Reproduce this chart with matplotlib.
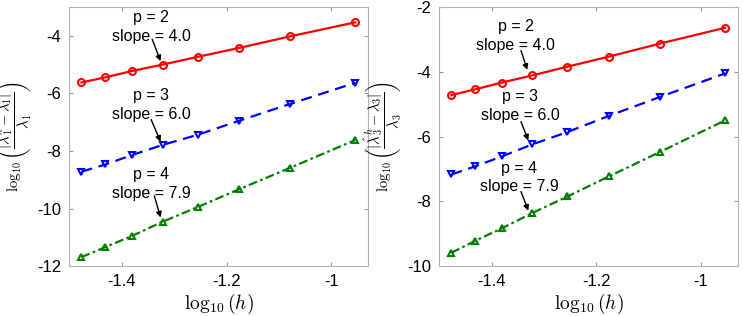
import numpy as np
import matplotlib
matplotlib.use("Agg")
import matplotlib.pyplot as plt

plt.rcParams['font.family'] = ['Liberation Sans', 'DejaVu Sans']
plt.rcParams['mathtext.fontset'] = 'cm'

# log10(h), h = 1/30 ... 1/9
h_inv = [30, 27, 24, 21, 18, 15, 12, 9]
log_h = [np.log10(1.0 / n) for n in h_inv]

# Panel 1: lambda_1 errors
err1_p2 = [-5.62, -5.44, -5.22, -5.00, -4.73, -4.42, -4.02, -3.53]
err1_p3 = [-8.72, -8.47, -8.14, -7.79, -7.44, -6.95, -6.37, -5.63]
err1_p4 = [-11.69, -11.34, -10.95, -10.46, -9.95, -9.33, -8.59, -7.62]

# Panel 2: lambda_3 errors
err3_p2 = [-4.72, -4.54, -4.33, -4.11, -3.84, -3.53, -3.13, -2.64]
err3_p3 = [-7.17, -6.92, -6.61, -6.24, -5.86, -5.36, -4.78, -4.05]
err3_p4 = [-9.59, -9.22, -8.83, -8.36, -7.85, -7.23, -6.48, -5.50]

labels_p = ["p = 2\nslope = 4.0", "p = 3\nslope = 6.0", "p = 4\nslope = 7.9"]

fig = plt.figure(figsize=(7.43, 3.16), dpi=100)
ax1 = fig.add_axes([0.0935, 0.158, 0.4017, 0.8196])
ax2 = fig.add_axes([0.5913, 0.158, 0.4016, 0.8196])

styles = [dict(color='red', ls='-', marker='o'),
          dict(color='blue', ls='--', marker='v', dashes=(5, 3)),
          dict(color='green', ls='-.', marker='^', dashes=(4, 1.5, 1.2, 1.5))]

def draw(ax, series, ylim, yticks, ylabel, text_pos, arrows):
    for s, st in zip(series, styles):
        ax.plot(log_h, s, lw=1.6, markersize=5, markerfacecolor='none',
                markeredgewidth=1.5, **st)
    for lab, (tx, ty), (ax0, ay0, ax1_, ay1) in zip(labels_p, text_pos, arrows):
        ax.text(tx, ty, lab, ha='center', va='center', fontsize=11.5,
                linespacing=1.3)
        ax.annotate('', xy=(ax1_, ay1), xytext=(ax0, ay0),
                    arrowprops=dict(arrowstyle='-|>', color='black', lw=1,
                                    mutation_scale=8, shrinkA=0, shrinkB=0))
    ax.set_xlim(-1.5, -0.93)
    ax.set_ylim(*ylim)
    ax.set_xticks([-1.4, -1.2, -1])
    ax.set_xticklabels(['-1.4', '-1.2', '-1'])
    ax.set_yticks(yticks)
    ax.set_yticklabels([str(int(v)) for v in yticks])
    ax.tick_params(direction='in', length=3, top=True, right=True,
                   labelsize=12, color='0.6', pad=6)
    for sp in ax.spines.values():
        sp.set_color('0.7')
        sp.set_linewidth(0.8)
    ax.set_xlabel(r'$\log_{10}(h)$', fontsize=14, labelpad=2)
    ax.set_ylabel(ylabel, fontsize=10.5)
    ax.yaxis.set_label_coords(-0.118, 0.5)

draw(ax1, [err1_p2, err1_p3, err1_p4], (-12, -3), [-12, -10, -8, -6, -4],
     r'$\log_{10}\left(\dfrac{|\hat{\lambda}_1^h-\lambda_1|}{\lambda_1}\right)$',
     [(-1.344, -3.70), (-1.344, -6.40), (-1.344, -9.15)],
     [(-1.342, -4.12, -1.326, -4.88),
      (-1.344, -6.91, -1.326, -7.68),
      (-1.338, -9.56, -1.326, -10.31)])
draw(ax2, [err3_p2, err3_p3, err3_p4], (-10, -2), [-10, -8, -6, -4, -2],
     r'$\log_{10}\left(\dfrac{|\hat{\lambda}_3^h-\lambda_3|}{\lambda_3}\right)$',
     [(-1.354, -2.90), (-1.346, -5.06), (-1.347, -7.27)],
     [(-1.344, -3.34, -1.332, -3.94),
      (-1.344, -5.54, -1.330, -6.12),
      (-1.344, -7.70, -1.330, -8.29)])

fig.savefig('out.png', dpi=100)
